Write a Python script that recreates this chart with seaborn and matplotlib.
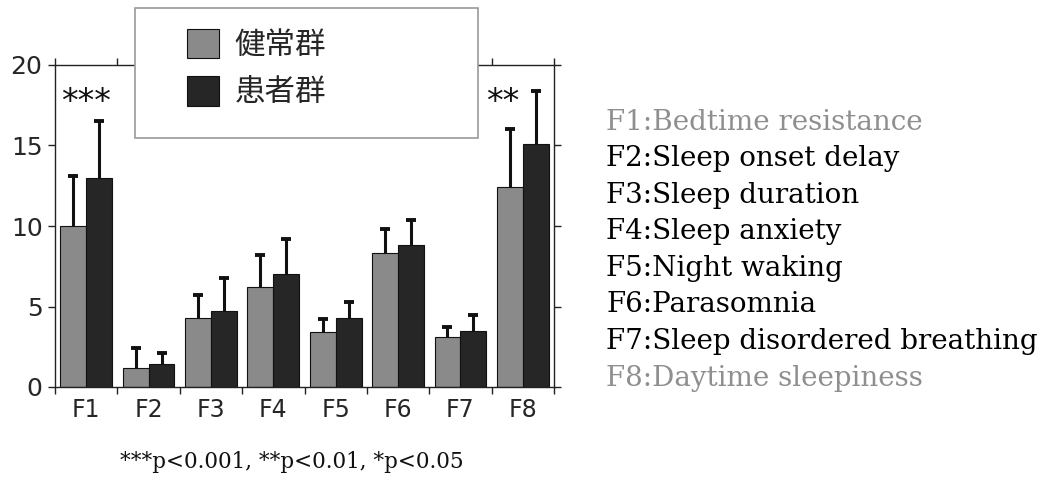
import matplotlib
matplotlib.use("Agg")
import matplotlib.pyplot as plt
from matplotlib.patches import Rectangle
import seaborn as sns
import pandas as pd
import numpy as np

# ---- data ----
factors = ["F1", "F2", "F3", "F4", "F5", "F6", "F7", "F8"]
groups = ["健常群", "患者群"]
healthy_mean = [10.0, 1.2, 4.3, 6.2, 3.4, 8.3, 3.1, 12.4]
healthy_sd = [3.1, 1.2, 1.4, 2.0, 0.8, 1.5, 0.6, 3.6]
patient_mean = [13.0, 1.4, 4.7, 7.0, 4.3, 8.8, 3.5, 15.1]
patient_sd = [3.5, 0.7, 2.1, 2.2, 1.0, 1.6, 1.0, 3.3]
yticks = [0, 5, 10, 15, 20]
sig_labels = ["***", "**"]
sig_x = [0.0, 6.68]
sig_y = [17.7, 17.7]
factor_desc = ["F1:Bedtime resistance", "F2:Sleep onset delay", "F3:Sleep duration",
               "F4:Sleep anxiety", "F5:Night waking", "F6:Parasomnia",
               "F7:Sleep disordered breathing", "F8:Daytime sleepiness"]
desc_colors = ["#8f8f8f", "#000000", "#000000", "#000000", "#000000", "#000000",
               "#000000", "#8f8f8f"]
footnote = "***p<0.001, **p<0.01, *p<0.05"

df = pd.DataFrame({
    "factor": factors * 2,
    "group": [groups[0]] * len(factors) + [groups[1]] * len(factors),
    "mean": healthy_mean + patient_mean,
    "sd": healthy_sd + patient_sd,
})

sns.set_theme(style="ticks")
plt.rcParams["font.family"] = ["DejaVu Sans", "Noto Sans CJK JP"]

fig = plt.figure(figsize=(10.49, 4.97), dpi=100)
ax = fig.add_axes([55 / 1049, 1 - 387 / 497, (554 - 55) / 1049, (387 - 65) / 497])

palette = {groups[0]: "#8a8a8a", groups[1]: "#262626"}
sns.barplot(data=df, x="factor", y="mean", hue="group", order=factors,
            hue_order=groups, palette=palette, errorbar=None, width=0.83,
            edgecolor="#111111", linewidth=0.8, saturation=1, ax=ax)

# error bars (upper only) placed at seaborn's bar centers
for container, g in zip(ax.containers, groups):
    sub = df[df["group"] == g].set_index("factor").loc[factors]
    xs = np.array([p.get_x() + p.get_width() / 2 for p in container.patches])
    m = sub["mean"].values
    s = sub["sd"].values
    ax.errorbar(xs, m, yerr=[np.zeros(len(xs)), s],
                fmt="none", ecolor="#111111", elinewidth=2.2, capsize=0,
                zorder=2)
    ax.plot(xs, m + s, linestyle="none", marker="_", markersize=7,
            markeredgewidth=2.8, color="#111111", zorder=2)

ax.set_xlim(-0.5, len(factors) - 0.5)
ax.set_ylim(0, 20)
ax.set_xlabel("")
ax.set_ylabel("")

# boundaries as major ticks, labels at centers as minor
ax.set_xticks(np.arange(-0.5, len(factors), 1.0))
ax.set_xticklabels([])
ax.set_xticks(np.arange(len(factors)), minor=True)
ax.set_xticklabels(factors, minor=True, fontsize=17)
ax.tick_params(axis="x", which="minor", length=0, pad=8)
ax.tick_params(axis="x", which="major", length=5, width=1, direction="out",
               top=True, bottom=True, color="#222222")
ax.set_yticks(yticks)
ax.set_yticklabels([str(v) for v in yticks], fontsize=18)
ax.tick_params(axis="y", length=5, width=1, direction="out", left=True,
               right=True, color="#222222", pad=4)
for s in ax.spines.values():
    s.set_visible(True)
    s.set_linewidth(1.0)
    s.set_color("#222222")

# significance marks
for lab, x, y in zip(sig_labels, sig_x, sig_y):
    ax.text(x, y, lab, ha="center", va="center", fontsize=24, color="#111111")

# legend with box
handles, labels = ax.get_legend_handles_labels()
ax.get_legend().remove()
fig.add_artist(Rectangle((135 / 1049, 1 - 138 / 497), (478 - 135) / 1049, 130 / 497,
                         transform=fig.transFigure, facecolor="white",
                         edgecolor="#9a9a9a", linewidth=1.2, zorder=3))
leg = fig.legend(handles, labels, loc="upper left",
                 bbox_to_anchor=(187 / 1049, 1 - 29 / 497),
                 frameon=False, borderpad=0, borderaxespad=0,
                 handlelength=1.05, handleheight=1.1, handletextpad=0.5,
                 labelspacing=0.5,
                 prop={"family": ["Noto Sans CJK JP"], "size": 22})
leg.set_zorder(5)

# factor descriptions
y0 = 1 - 122 / 497
for i, (t, c) in enumerate(zip(factor_desc, desc_colors)):
    fig.text(606 / 1049, y0 - i * 36.6 / 497, t, ha="left", va="center",
             fontsize=20, color=c, family="DejaVu Serif")

fig.text(120 / 1049, 1 - 462 / 497, footnote, ha="left", va="center",
         fontsize=15.5, color="#111111", family="DejaVu Serif")

fig.savefig("out.png", dpi=100)
